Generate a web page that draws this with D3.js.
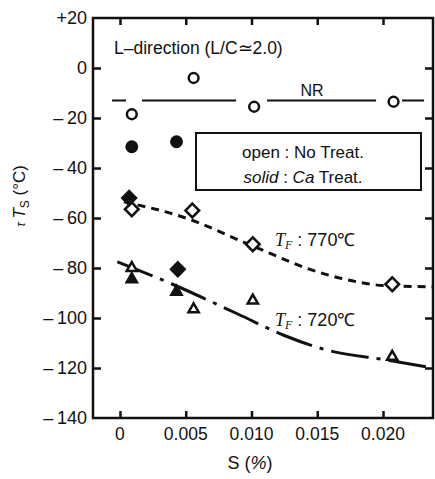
<!DOCTYPE html>
<html><head><meta charset="utf-8">
<script src="https://cdn.jsdelivr.net/npm/d3@7"></script>
<style>
body{margin:0;background:#fff;}
text{font-family:"Liberation Sans",Arial,sans-serif;fill:#111;}
</style></head>
<body><svg id="c" width="435" height="479"></svg>
<script>
// ---- data ----
const xTicks = [0, 0.005, 0.010, 0.015, 0.020];
const xTickLabels = ["0", "0.005", "0.010", "0.015", "0.020"];
const yTicks = [20, 0, -20, -40, -60, -80, -100, -120, -140];
const yTickLabels = ["+20", "0", "\u2013\u200920", "\u2013\u200940", "\u2013\u200960", "\u2013\u200980", "\u2013\u2009100", "\u2013\u2009120", "\u2013\u2009140"];

const openCircleS = [0.0009, 0.0056, 0.0102, 0.0208];
const openCircleT = [-18.5, -4, -15.5, -13.5];
const solidCircleS = [0.0009, 0.0043];
const solidCircleT = [-31.5, -29.5];

const openDiamondS = [0.0009, 0.0055, 0.0101, 0.0207];
const openDiamondT = [-56.5, -57, -70.5, -86.5];
const solidDiamondS = [0.0007, 0.0044];
const solidDiamondT = [-52, -80.5];

const openTriangleS = [0.0009, 0.0056, 0.0101, 0.0207];
const openTriangleT = [-80, -96.5, -93, -115.5];
const solidTriangleS = [0.0009, 0.0043];
const solidTriangleT = [-84.5, -89.5];

const nrS = [-0.0006, 0.0232];
const nrT = [-13, -13];
const curve770S = [0.0003, 0.005, 0.010, 0.015, 0.018, 0.020, 0.0238];
const curve770T = [-53.5, -60, -71, -81.5, -85.5, -87, -87.5];
const curve720S = [-0.0002, 0.004, 0.009, 0.0125, 0.0155, 0.0205, 0.0238];
const curve720T = [-77.5, -86.5, -98.5, -107, -112.5, -117, -120];

// ---- layout ----
const svg = d3.select("#c");
const x = d3.scaleLinear().domain([-0.00205, 0.0238]).range([93, 433]);
const y = d3.scaleLinear().domain([-140, 20]).range([418, 18]);
const X0 = 93, X1 = 433, Y0 = 418, Y1 = 18;

// frame
svg.append("rect").attr("x", X0).attr("y", Y1).attr("width", X1 - X0).attr("height", Y0 - Y1)
  .attr("fill", "none").attr("stroke", "#111").attr("stroke-width", 2.5);

// axes with inward ticks
const gL = svg.append("g").attr("transform", `translate(${X0},0)`)
  .call(d3.axisRight(y).tickValues(yTicks.slice(1, -1)).tickSize(8).tickFormat(""));
const gR = svg.append("g").attr("transform", `translate(${X1},0)`)
  .call(d3.axisLeft(y).tickValues(yTicks.slice(1, -1)).tickSize(8).tickFormat(""));
const gB = svg.append("g").attr("transform", `translate(0,${Y0})`)
  .call(d3.axisTop(x).tickValues(xTicks).tickSize(7).tickFormat(""));
const gT = svg.append("g").attr("transform", `translate(0,${Y1})`)
  .call(d3.axisBottom(x).tickValues(xTicks).tickSize(7).tickFormat(""));
[gL, gR, gB, gT].forEach(g => {
  g.select(".domain").remove();
  g.selectAll("line").attr("stroke", "#111").attr("stroke-width", 2.5);
});

// tick labels
svg.append("g").selectAll("text").data(yTicks).join("text")
  .attr("x", 87).attr("y", d => y(d)).attr("dy", "0.36em")
  .attr("text-anchor", "end").attr("font-size", 18)
  .text((d, i) => yTickLabels[i]);
svg.append("g").selectAll("text").data(xTicks).join("text")
  .attr("x", d => x(d)).attr("y", Y0 + 22)
  .attr("text-anchor", "middle").attr("font-size", 17.5)
  .text((d, i) => xTickLabels[i]);

// axis titles
const xt = svg.append("text").attr("x", 250).attr("y", 469).attr("text-anchor", "middle").attr("font-size", 18);
xt.append("tspan").text("S (");
xt.append("tspan").attr("font-style", "italic").text("%");
xt.append("tspan").text(")");
const yl = svg.append("text").attr("transform", "translate(25,196) rotate(-90)")
  .attr("text-anchor", "middle").attr("font-size", 17);
yl.append("tspan").attr("font-style", "italic").attr("font-size", 13).text("\u03c4 ");
yl.append("tspan").attr("font-style", "italic").text("T");
yl.append("tspan").attr("font-size", 12).attr("dy", 4).text("S");
yl.append("tspan").attr("dy", -4).text(" (\u00b0C)");

// lines
const line = d3.line().x(d => x(d[0])).y(d => y(d[1])).curve(d3.curveMonotoneX);
const zip = (a, b) => a.map((v, i) => [v, b[i]]);
svg.append("path").attr("d", line(zip(nrS, nrT))).attr("fill", "none").attr("stroke", "#111")
  .attr("stroke-width", 2.2).attr("stroke-dasharray", "14,16,94,31,109,26,22");
svg.append("path").attr("d", line(zip(curve770S, curve770T))).attr("fill", "none").attr("stroke", "#111")
  .attr("stroke-width", 3).attr("stroke-dasharray", "8,6");
svg.append("path").attr("d", line(zip(curve720S, curve720T))).attr("fill", "none").attr("stroke", "#111")
  .attr("stroke-width", 3).attr("stroke-dasharray", "38,8,4,8");

// markers
function marks(type, size, S, T, filled) {
  svg.append("g").selectAll("path").data(zip(S, T)).join("path")
    .attr("transform", d => `translate(${x(d[0])},${y(d[1])})`)
    .attr("d", d3.symbol().type(type).size(size))
    .attr("fill", filled ? "#111" : "#fff").attr("stroke", "#111").attr("stroke-width", 2.5);
}
marks(d3.symbolCircle, 75, openCircleS, openCircleT, false);
marks(d3.symbolCircle, 85, solidCircleS, solidCircleT, true);
marks(d3.symbolDiamond2, 120, openDiamondS, openDiamondT, false);
marks(d3.symbolDiamond2, 120, solidDiamondS, solidDiamondT, true);
marks(d3.symbolTriangle2, 75, openTriangleS, openTriangleT, false);
marks(d3.symbolTriangle2, 75, solidTriangleS, solidTriangleT, true);

// annotations
svg.append("text").attr("x", 114).attr("y", 54).attr("font-size", 17.5).text("L\u2013direction (L/C\u22432.0)");
svg.append("text").attr("x", 312).attr("y", 96).attr("text-anchor", "middle").attr("font-size", 16).text("NR");

svg.append("rect").attr("x", 196).attr("y", 133).attr("width", 225).attr("height", 57)
  .attr("fill", "#fff").attr("stroke", "#111").attr("stroke-width", 2);
svg.append("text").attr("x", 303).attr("y", 158).attr("text-anchor", "middle").attr("font-size", 17)
  .text("open : No Treat.");
const t2 = svg.append("text").attr("x", 303).attr("y", 183).attr("text-anchor", "middle").attr("font-size", 17);
t2.append("tspan").attr("font-style", "italic").text("solid");
t2.append("tspan").text(" : ");
t2.append("tspan").attr("font-style", "italic").text("Ca");
t2.append("tspan").text(" Treat.");

function tf(xp, yp, label) {
  const t = svg.append("text").attr("x", xp).attr("y", yp).attr("font-size", 18);
  t.append("tspan").attr("font-style", "italic").attr("font-family", "Liberation Serif,serif").text("T");
  t.append("tspan").attr("font-style", "italic").attr("font-family", "Liberation Serif,serif").attr("font-size", 12).attr("dy", 3).text("F");
  t.append("tspan").attr("dy", -3).text(" : " + label);
}
tf(275, 246, "770\u2103");
tf(275, 326, "720\u2103");
</script></body></html>
